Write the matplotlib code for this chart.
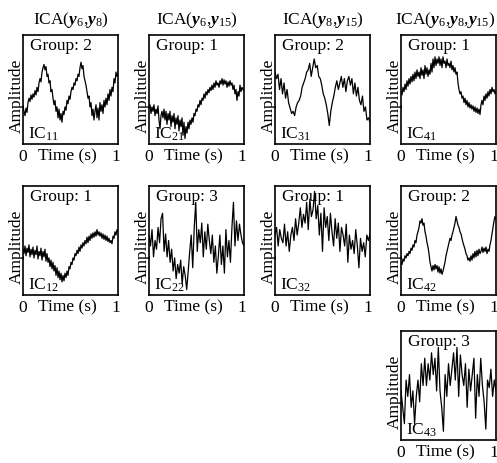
import matplotlib

matplotlib.use("Agg")
import matplotlib.pyplot as plt
import numpy as np

plt.rcParams["font.family"] = ["Liberation Serif", "DejaVu Serif"]
plt.rcParams["mathtext.fontset"] = "custom"
plt.rcParams["mathtext.rm"] = "Liberation Serif"
plt.rcParams["mathtext.it"] = "Liberation Serif:italic"
plt.rcParams["mathtext.bf"] = "Liberation Serif:bold:italic"

# column titles
titles = [
    r"ICA($\mathbf{y}_{\mathrm{6}}$,$\mathbf{y}_{\mathrm{8}}$)",
    r"ICA($\mathbf{y}_{\mathrm{6}}$,$\mathbf{y}_{\mathrm{15}}$)",
    r"ICA($\mathbf{y}_{\mathrm{8}}$,$\mathbf{y}_{\mathrm{15}}$)",
    r"ICA($\mathbf{y}_{\mathrm{6}}$,$\mathbf{y}_{\mathrm{8}}$,$\mathbf{y}_{\mathrm{15}}$)",
]

# (row, col, component name, group) for each panel
panels = [
    (0, 0, "11", 2), (0, 1, "21", 1), (0, 2, "31", 2), (0, 3, "41", 1),
    (1, 0, "12", 1), (1, 1, "22", 3), (1, 2, "32", 1), (1, 3, "42", 2),
    (2, 3, "43", 3),
]

# traces, normalised amplitude
ic11 = [0.34, 0.30, 0.26, 0.33, 0.29, 0.38, 0.42, 0.39, 0.45, 0.41,
        0.46, 0.43, 0.49, 0.45, 0.52, 0.48, 0.56, 0.60, 0.57, 0.66,
        0.70, 0.73, 0.68, 0.71, 0.62, 0.64, 0.56, 0.58, 0.48, 0.50,
        0.42, 0.36, 0.40, 0.30, 0.34, 0.24, 0.32, 0.22, 0.28, 0.20,
        0.30, 0.27, 0.34, 0.31, 0.40, 0.37, 0.44, 0.41, 0.48, 0.52,
        0.50, 0.56, 0.54, 0.60, 0.58, 0.64, 0.62, 0.70, 0.75, 0.69,
        0.72, 0.62, 0.58, 0.54, 0.48, 0.42, 0.44, 0.34, 0.38, 0.26,
        0.32, 0.22, 0.30, 0.36, 0.24, 0.33, 0.22, 0.38, 0.30, 0.36,
        0.28, 0.40, 0.34, 0.42, 0.36, 0.46, 0.40, 0.50, 0.44, 0.52,
        0.48, 0.60, 0.56, 0.66, 0.62, 0.64]
ic21 = [0.33, 0.36, 0.28, 0.34, 0.30, 0.36, 0.26, 0.32, 0.28, 0.35,
        0.22, 0.14, 0.26, 0.30, 0.24, 0.32, 0.22, 0.30, 0.18, 0.28,
        0.22, 0.30, 0.16, 0.26, 0.20, 0.28, 0.14, 0.24, 0.18, 0.26,
        0.12, 0.22, 0.16, 0.24, 0.08, 0.20, 0.05, 0.16, 0.10, 0.20,
        0.14, 0.22, 0.18, 0.24, 0.20, 0.28, 0.26, 0.32, 0.30, 0.36,
        0.34, 0.40, 0.36, 0.42, 0.40, 0.46, 0.42, 0.48, 0.45, 0.50,
        0.47, 0.52, 0.49, 0.54, 0.50, 0.56, 0.52, 0.58, 0.54, 0.56,
        0.52, 0.58, 0.55, 0.60, 0.54, 0.59, 0.55, 0.58, 0.52, 0.57,
        0.53, 0.58, 0.54, 0.56, 0.50, 0.54, 0.46, 0.50, 0.40, 0.48,
        0.44, 0.54, 0.48, 0.52, 0.50, 0.49]
ic31 = [0.66, 0.60, 0.64, 0.50, 0.60, 0.46, 0.56, 0.42, 0.50, 0.38, 0.33, 0.28, 0.30, 0.26, 0.34, 0.38,
        0.40, 0.44, 0.52, 0.56, 0.60, 0.66, 0.68, 0.74, 0.62, 0.70, 0.78, 0.70, 0.72, 0.62, 0.60, 0.54,
        0.46, 0.42, 0.36, 0.28, 0.17, 0.30, 0.38, 0.44, 0.52, 0.58, 0.50, 0.56, 0.62, 0.52, 0.60, 0.48,
        0.58, 0.62, 0.54, 0.60, 0.46, 0.56, 0.44, 0.52, 0.40, 0.36, 0.44, 0.30, 0.34, 0.22, 0.24, 0.20]
ic41 = [0.48, 0.45, 0.52, 0.48, 0.55, 0.50, 0.58, 0.53, 0.60, 0.55,
        0.62, 0.57, 0.64, 0.58, 0.66, 0.60, 0.68, 0.62, 0.66, 0.60,
        0.70, 0.63, 0.68, 0.60, 0.72, 0.64, 0.70, 0.62, 0.68, 0.64,
        0.74, 0.66, 0.78, 0.70, 0.80, 0.72, 0.78, 0.74, 0.80, 0.72,
        0.78, 0.70, 0.80, 0.74, 0.76, 0.70, 0.78, 0.72, 0.74, 0.70,
        0.76, 0.68, 0.72, 0.66, 0.70, 0.64, 0.66, 0.56, 0.50, 0.46,
        0.48, 0.42, 0.44, 0.38, 0.42, 0.36, 0.40, 0.34, 0.38, 0.33,
        0.36, 0.32, 0.35, 0.30, 0.34, 0.29, 0.33, 0.28, 0.32, 0.27,
        0.36, 0.40, 0.36, 0.44, 0.40, 0.46, 0.42, 0.48, 0.44, 0.50,
        0.46, 0.52, 0.48, 0.50, 0.46, 0.48]
ic12 = [0.42, 0.38, 0.45, 0.36, 0.43, 0.39, 0.46, 0.35, 0.42, 0.37,
        0.44, 0.34, 0.41, 0.37, 0.45, 0.33, 0.40, 0.36, 0.43, 0.32,
        0.40, 0.35, 0.42, 0.31, 0.38, 0.30, 0.34, 0.26, 0.32, 0.24,
        0.30, 0.22, 0.27, 0.18, 0.25, 0.16, 0.22, 0.14, 0.20, 0.12,
        0.18, 0.13, 0.20, 0.16, 0.22, 0.18, 0.26, 0.24, 0.30, 0.28,
        0.34, 0.32, 0.38, 0.36, 0.41, 0.38, 0.44, 0.40, 0.46, 0.43,
        0.48, 0.45, 0.50, 0.47, 0.53, 0.48, 0.54, 0.50, 0.56, 0.52,
        0.57, 0.53, 0.58, 0.54, 0.60, 0.55, 0.58, 0.54, 0.57, 0.52,
        0.56, 0.51, 0.55, 0.50, 0.54, 0.49, 0.52, 0.48, 0.50, 0.47,
        0.54, 0.52, 0.58, 0.55, 0.60, 0.58]
ic22 = [0.55, 0.45, 0.60, 0.35, 0.50, 0.42, 0.62, 0.48, 0.70, 0.75, 0.40, 0.56, 0.35, 0.50, 0.30, 0.42,
        0.22, 0.34, 0.15, 0.28, 0.20, 0.32, 0.10, 0.26, 0.18, 0.05, 0.22, 0.40, 0.55, 0.25, 0.62, 0.85,
        0.40, 0.60, 0.48, 0.66, 0.35, 0.58, 0.42, 0.65, 0.50, 0.38, 0.55, 0.30, 0.45, 0.20, 0.36, 0.55,
        0.28, 0.45, 0.20, 0.60, 0.35, 0.50, 0.30, 0.62, 0.85, 0.45, 0.68, 0.50, 0.65, 0.55, 0.48, 0.45]
ic32 = [0.55, 0.62, 0.45, 0.60, 0.52, 0.48, 0.65, 0.45, 0.58, 0.40, 0.55, 0.62, 0.50, 0.70, 0.55, 0.66,
        0.80, 0.62, 0.74, 0.66, 0.85, 0.60, 0.88, 0.72, 0.78, 0.95, 0.70, 0.82, 0.55, 0.75, 0.40, 0.80,
        0.62, 0.72, 0.50, 0.75, 0.58, 0.45, 0.70, 0.52, 0.66, 0.40, 0.62, 0.55, 0.45, 0.65, 0.30, 0.55,
        0.42, 0.50, 0.38, 0.60, 0.45, 0.25, 0.52, 0.40, 0.48, 0.35, 0.55, 0.50, 0.56]
ic42 = [0.30, 0.28, 0.33, 0.31, 0.36, 0.34, 0.38, 0.36, 0.40, 0.38,
        0.43, 0.41, 0.46, 0.44, 0.50, 0.48, 0.55, 0.58, 0.62, 0.68,
        0.66, 0.70, 0.64, 0.66, 0.58, 0.54, 0.48, 0.44, 0.38, 0.30,
        0.26, 0.22, 0.27, 0.23, 0.28, 0.24, 0.27, 0.21, 0.26, 0.20,
        0.24, 0.19, 0.22, 0.26, 0.30, 0.36, 0.40, 0.44, 0.48, 0.52,
        0.50, 0.55, 0.58, 0.62, 0.66, 0.72, 0.68, 0.64, 0.62, 0.58,
        0.56, 0.52, 0.48, 0.45, 0.42, 0.38, 0.36, 0.32, 0.34, 0.31,
        0.36, 0.32, 0.38, 0.34, 0.40, 0.35, 0.41, 0.36, 0.42, 0.38,
        0.40, 0.44, 0.39, 0.43, 0.40, 0.44, 0.38, 0.42, 0.40, 0.46,
        0.50, 0.56, 0.62, 0.68, 0.72, 0.70]
ic43 = [0.45, 0.30, 0.15, 0.55, 0.40, 0.60, 0.30, 0.45, 0.15, 0.40, 0.55, 0.35, 0.70, 0.50, 0.75, 0.50,
        0.70, 0.55, 0.80, 0.60, 0.75, 0.45, 0.85, 0.45, 0.30, 0.08, 0.60, 0.40, 0.70, 0.50, 0.65, 0.80,
        0.55, 0.85, 0.40, 0.78, 0.60, 0.50, 0.70, 0.30, 0.65, 0.45, 0.60, 0.75, 0.20, 0.60, 0.40, 0.75,
        0.50, 0.35, 0.10, 0.55, 0.48, 0.65, 0.40, 0.55, 0.45]

traces = {"11": ic11, "21": ic21, "31": ic31, "41": ic41,
          "12": ic12, "22": ic22, "32": ic32, "42": ic42, "43": ic43}

W, H = 497, 464
col_left = [23, 149, 275, 401]
row_top = [36, 187, 332]
box_w, box_h = 95, 109

fig = plt.figure(figsize=(W / 100, H / 100), dpi=100)
fs = 12.5

for row, col, name, group in panels:
    ax = fig.add_axes([col_left[col] / W, 1 - (row_top[row] + box_h) / H, box_w / W, box_h / H])
    y = np.array(traces[name])
    t = np.linspace(0, 1, len(y))
    ax.plot(t, y, color="black", lw=0.9)
    ax.set_xlim(0, 1)
    ax.set_ylim(0, 1)
    ax.set_xticks([])
    ax.set_yticks([])
    for s in ax.spines.values():
        s.set_linewidth(1.2)

    ax.text(0.07, 0.985, f"Group: {group}", transform=ax.transAxes, ha="left", va="top", fontsize=fs)
    ax.text(0.05, 0.06, "IC$_{\\mathrm{%s}}$" % name, transform=ax.transAxes,
            ha="left", va="baseline", fontsize=fs)
    ax.text(-0.07, 0.45, "Amplitude", transform=ax.transAxes, rotation=90,
            ha="center", va="center", fontsize=fs)

    ax.text(0.0, -0.035, "0", transform=ax.transAxes, ha="center", va="top", fontsize=fs)
    ax.text(0.47, -0.035, "Time (s)", transform=ax.transAxes, ha="center", va="top", fontsize=fs)
    ax.text(0.98, -0.035, "1", transform=ax.transAxes, ha="center", va="top", fontsize=fs)

    if row == 0:
        ax.set_title(titles[col], fontsize=fs, pad=9, x=0.47 if col == 3 else 0.5)

fig.savefig("out.png", dpi=100)
